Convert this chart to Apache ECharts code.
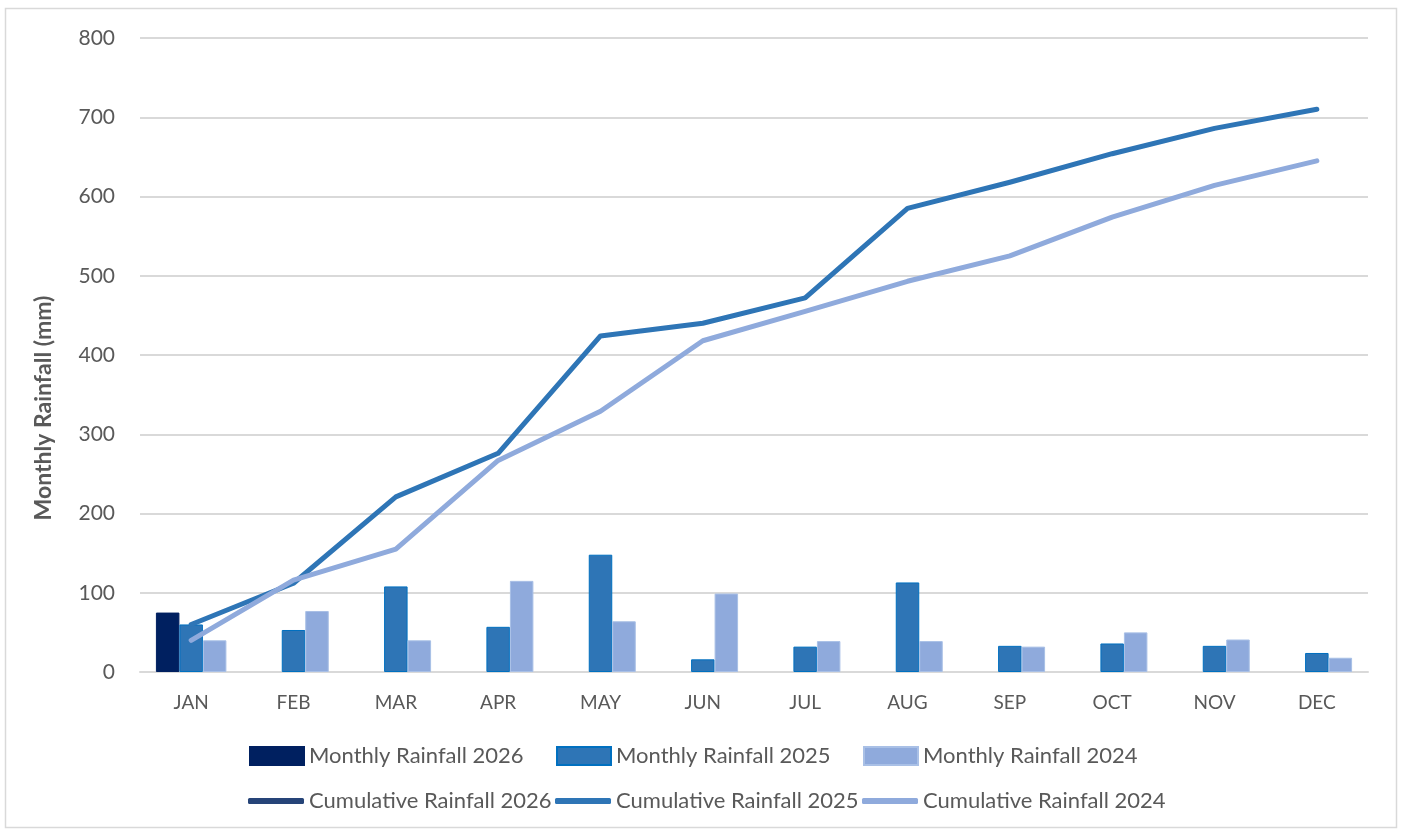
<!DOCTYPE html>
<html>
<head>
<meta charset="utf-8">
<title>Monthly Rainfall</title>
<script src="https://cdn.jsdelivr.net/npm/echarts@6.0.0/dist/echarts.min.js"></script>
<style>
    body { margin: 0; background: #fff; }
    #chart { width: 1402px; height: 833px; }
</style>
</head>
<body>
<div id="chart"></div>
<script>
    // categories and values
    const months = ['JAN', 'FEB', 'MAR', 'APR', 'MAY', 'JUN', 'JUL', 'AUG', 'SEP', 'OCT', 'NOV', 'DEC'];
    const monthly2026 = [75];
    const monthly2025 = [60, 53, 108, 57, 148, 16, 32, 113, 33, 36, 33, 24];
    const monthly2024 = [40, 77, 40, 115, 64, 99, 39, 39, 32, 50, 41, 18];
    const cumulative2026 = [75];
    const cumulative2025 = [60, 112, 221, 276, 424, 440, 472, 585, 618, 654, 686, 710];
    const cumulative2024 = [40, 116, 155, 267, 329, 418, 455, 493, 525, 574, 614, 645];
    const yTicks = [0, 100, 200, 300, 400, 500, 600, 700, 800];

    const barNames = ['Monthly Rainfall 2026', 'Monthly Rainfall 2025', 'Monthly Rainfall 2024'];
    const lineNames = ['Cumulative Rainfall 2026', 'Cumulative Rainfall 2025', 'Cumulative Rainfall 2024'];

    const font = 'Lato, "Open Sans", sans-serif';
    const grey = '#595959';

    const myChart = echarts.init(document.getElementById('chart'));

    function barSeries(name, data, color, border) {
        return {
            name: name,
            type: 'bar',
            data: data,
            barWidth: 23.5,
            barGap: '0%',
            itemStyle: {color: color, borderColor: border, borderWidth: 1}
        };
    }

    function lineSeries(name, data, color) {
        return {
            name: name,
            type: 'line',
            data: data,
            symbol: 'none',
            lineStyle: {color: color, width: 5, cap: 'round', join: 'round'},
            itemStyle: {color: color}
        };
    }

    // one legend per item so each entry sits where it does in the picture
    function legendItem(name, left, top, isLine) {
        return {
            data: [name],
            left: left,
            top: top,
            padding: 0,
            itemWidth: isLine ? 56 : 54,
            itemHeight: isLine ? 6 : 18,
            icon: isLine ? 'roundRect' : 'rect',
            selectedMode: false,
            textStyle: {color: grey, fontSize: 22, fontFamily: font}
        };
    }

    const legends = [];
    const lefts = [249, 556, 863];
    barNames.forEach(function (n, i) {
        legends.push(legendItem(n, lefts[i], 745, false));
    });
    lineNames.forEach(function (n, i) {
        legends.push(legendItem(n, lefts[i] - 1, 790, true));
    });

    myChart.setOption({
        animation: false,
        textStyle: {fontFamily: font},
        graphic: [
            {
                type: 'rect',
                shape: {x: 5.5, y: 8.5, width: 1391, height: 819},
                style: {fill: 'none', stroke: '#d9d9d9', lineWidth: 1.5},
                silent: true
            },
            {
                type: 'text',
                x: 44,
                y: 408,
                rotation: Math.PI / 2,
                style: {
                    text: 'Monthly Rainfall (mm)',
                    fill: grey,
                    fontSize: 23,
                    fontWeight: 'bold',
                    fontFamily: font,
                    align: 'center',
                    verticalAlign: 'middle'
                }
            }
        ],
        grid: {left: 140, right: 34, top: 38, bottom: 161},
        legend: legends,
        xAxis: {
            type: 'category',
            data: months,
            axisLine: {show: true, lineStyle: {color: '#d9d9d9', width: 2}},
            axisTick: {show: false},
            axisLabel: {color: grey, fontSize: 19, margin: 21}
        },
        yAxis: {
            type: 'value',
            min: yTicks[0],
            max: yTicks[yTicks.length - 1],
            interval: 100,
            axisLine: {show: false},
            axisTick: {show: false},
            axisLabel: {color: grey, fontSize: 21, margin: 25},
            splitLine: {lineStyle: {color: '#d9d9d9', width: 2}}
        },
        series: [
            barSeries(barNames[0], monthly2026, '#002060', '#002060'),
            barSeries(barNames[1], monthly2025, '#2e75b6', '#0070c0'),
            barSeries(barNames[2], monthly2024, '#8faadc', '#a9c0e6'),
            lineSeries(lineNames[0], cumulative2026, '#264478'),
            lineSeries(lineNames[1], cumulative2025, '#2e75b6'),
            lineSeries(lineNames[2], cumulative2024, '#8faadc')
        ]
    });
</script>
</body>
</html>
